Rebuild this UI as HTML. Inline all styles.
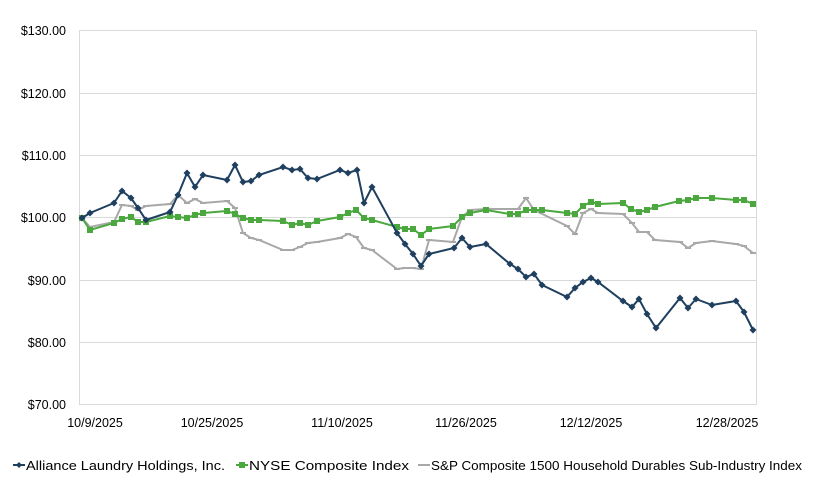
<!DOCTYPE html>
<html><head><style>
body{margin:0;background:#fff;}
svg{display:block;font-family:"Liberation Sans",sans-serif;}
</style></head><body>
<svg width="817" height="483" viewBox="0 0 817 483">
<defs>
<marker id="d" markerWidth="8" markerHeight="8" refX="4" refY="4" markerUnits="userSpaceOnUse"><path d="M4 0.5L7.5 4L4 7.5L0.5 4Z" fill="#1f3f5f"/></marker>
<marker id="s" markerWidth="8" markerHeight="8" refX="4" refY="4" markerUnits="userSpaceOnUse"><rect x="1" y="1" width="6" height="6" fill="#4aa83e"/></marker>
<marker id="g" markerWidth="8" markerHeight="4" refX="4" refY="2" markerUnits="userSpaceOnUse"><rect x="1" y="1" width="6" height="2" fill="#a8a8a8"/></marker>
</defs>
<g stroke="#d9d9d9" stroke-width="1">
<line x1="79" y1="30.5" x2="757" y2="30.5"/><line x1="79" y1="93.5" x2="757" y2="93.5"/>
<line x1="79" y1="155.5" x2="757" y2="155.5"/><line x1="79" y1="217.5" x2="757" y2="217.5"/>
<line x1="79" y1="280.5" x2="757" y2="280.5"/><line x1="79" y1="342.5" x2="757" y2="342.5"/>
<line x1="79" y1="404.5" x2="757" y2="404.5"/>
<line x1="79.5" y1="30" x2="79.5" y2="405"/><line x1="756.5" y1="30" x2="756.5" y2="405"/>
</g>
<g font-size="12.5" fill="#000" text-anchor="end">
<text x="66" y="35">$130.00</text><text x="66" y="98">$120.00</text><text x="66" y="160">$110.00</text>
<text x="66" y="222">$100.00</text><text x="66" y="285">$90.00</text><text x="66" y="347">$80.00</text><text x="66" y="409">$70.00</text>
</g>
<g font-size="12.5" fill="#000" text-anchor="middle">
<text x="95" y="427">10/9/2025</text><text x="212" y="427">10/25/2025</text><text x="342" y="427">11/10/2025</text>
<text x="466" y="427">11/26/2025</text><text x="591" y="427">12/12/2025</text><text x="727" y="427">12/28/2025</text>
</g>
<polyline fill="none" stroke="#a8a8a8" stroke-width="2" marker-mid="url(#g)" marker-start="url(#g)" marker-end="url(#g)" points="82,218 90,227 114,222 122,205 131,206 138,210 146,206 170,204 178,195 187,203 195,199 203,203 227,201 235,208 243,233 251,238 259,240 283,250 292,250 300,247 308,243 317,242 340,238 348,234 356,237 364,248 372,250 397,269 405,268 413,268 421,269 429,240 453,242 462,217 470,210 486,209 510,209 518,209 526,198 534,210 567,226 575,234 583,213 591,209 598,213 623,214 632,223 639,232 647,232 655,240 680,242 688,248 696,243 712,241 736,244 744,246 753,253"/>
<polyline fill="none" stroke="#4aa83e" stroke-width="2" marker-mid="url(#s)" marker-start="url(#s)" marker-end="url(#s)" points="82,218 90,230 114,223 122,219 131,217 138,222 146,222 170,216 178,217 187,218 195,215 203,213 227,211 235,214 243,218 251,220 259,220 283,221 292,225 300,223 308,225 317,221 340,217 348,213 356,210 364,218 372,220 397,227 405,229 413,229 421,235 429,229 453,226 462,217 470,213 486,210 510,214 518,214 526,210 534,210 542,210 567,213 575,214 583,206 591,202 598,204 623,203 631,209 639,212 647,210 655,207 679,201 688,200 696,198 712,198 736,200 744,200 753,204"/>
<polyline fill="none" stroke="#1f3f5f" stroke-width="2" marker-mid="url(#d)" marker-start="url(#d)" marker-end="url(#d)" points="82,218 90,213 114,203 122,191 131,198 138,208 146,220 170,212 178,195 187,173 195,187 203,175 227,180 235,165 243,182 251,181 259,175 283,167 292,170 300,169 308,178 317,179 340,170 348,173 357,170 364,203 372,187 397,233 405,244 413,254 421,266 429,254 454,248 462,238 470,247 486,244 510,264 518,269 526,277 534,274 542,285 567,297 575,288 583,282 591,278 598,282 623,301 632,307 639,299 647,314 656,328 680,298 688,308 696,299 712,305 736,301 744,312 753,330"/>
<g font-size="13" fill="#000">
<line x1="13" y1="465" x2="25" y2="465" stroke="#1f3f5f" stroke-width="2"/><path d="M19 462L22 465L19 468L16 465Z" fill="#1f3f5f"/>
<text x="26" y="470" textLength="199" lengthAdjust="spacingAndGlyphs">Alliance Laundry Holdings, Inc.</text>
<line x1="236" y1="465" x2="248" y2="465" stroke="#4aa83e" stroke-width="2"/><rect x="239" y="462" width="6" height="6" fill="#4aa83e"/>
<text x="249" y="470" textLength="160" lengthAdjust="spacingAndGlyphs">NYSE Composite Index</text>
<line x1="418" y1="465" x2="430" y2="465" stroke="#a8a8a8" stroke-width="2"/>
<text x="431" y="470" textLength="371" lengthAdjust="spacingAndGlyphs">S&amp;P Composite 1500 Household Durables Sub-Industry Index</text>
</g>
</svg>
</body></html>
